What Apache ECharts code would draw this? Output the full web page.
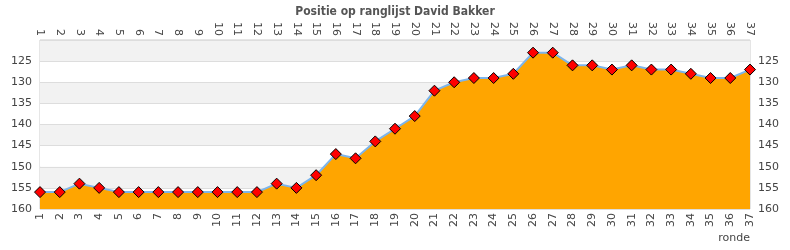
<!DOCTYPE html>
<html><head><meta charset="utf-8">
<script src="https://cdn.jsdelivr.net/npm/echarts@6/dist/echarts.min.js"></script>
<style>html,body{margin:0;padding:0;background:#fff}#c{width:790px;height:250px}</style>
</head><body><div id="c"></div>
<script>
const rounds = ['1','2','3','4','5','6','7','8','9','10','11','12','13','14','15','16','17','18','19','20','21','22','23','24','25','26','27','28','29','30','31','32','33','34','35','36','37'];
const positions = [156,156,154,155,156,156,156,156,156,156,156,156,154,155,152,147,148,144,141,138,132,130,129,129,128,123,123,126,126,127,126,127,127,128,129,129,127];
const chartTitle = 'Positie op ranglijst David Bakker';
const xName = 'ronde';

const font = 'DejaVu Sans';
const chart = echarts.init(document.getElementById('c'), null, {renderer:'canvas'});
const yCommon = {
  type:'value', inverse:true, min:120, max:160, interval:5,
  axisLine:{show:false}, axisTick:{show:false},
  axisLabel:{color:'#444', fontFamily:font, fontSize:11, showMinLabel:false},
};
const xCommon = {
  type:'category', data:rounds, boundaryGap:false,
  axisTick:{show:false}, axisLine:{show:false},
  axisLabel:{rotate:90, color:'#444', fontFamily:font, fontSize:11, interval:0, margin:4},
};
chart.setOption({
  animation:false,
  title:{text:chartTitle, left:'center', top:1, textStyle:{fontFamily:'DejaVu Sans Condensed', fontSize:12, fontWeight:'bold', color:'#555'}},
  grid:{left:40, right:40, top:40, bottom:41, show:true, borderColor:'#ccc', borderWidth:1, backgroundColor:'transparent'},
  xAxis:[
    Object.assign({}, xCommon, {position:'bottom', name:xName, nameLocation:'end', nameGap:0,
      nameTextStyle:{fontFamily:font, fontSize:11, color:'#444', align:'right', verticalAlign:'top', padding:[24,0,0,0]}}),
    Object.assign({}, xCommon, {position:'top'})
  ],
  yAxis:[
    Object.assign({}, yCommon, {position:'left',
      splitLine:{show:true, lineStyle:{color:'#ddd'}},
      splitArea:{show:true, areaStyle:{color:['#f2f2f2','#ffffff']}}}),
    Object.assign({}, yCommon, {position:'right', splitLine:{show:false}})
  ],
  series:[{
    type:'line', data:positions, xAxisIndex:0, yAxisIndex:0,
    lineStyle:{color:'#7cb5ec', width:2},
    areaStyle:{color:'#ffa500', opacity:1, origin:'end'},
    symbol:'diamond', symbolSize:11,
    itemStyle:{color:'#ff0000', borderColor:'#000', borderWidth:1},
  }]
});
</script></body></html>
